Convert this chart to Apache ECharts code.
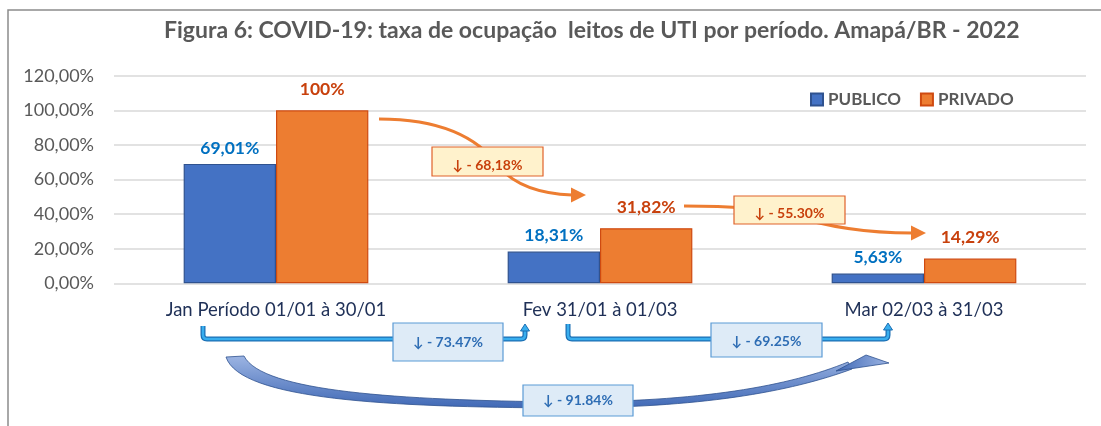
<!DOCTYPE html>
<html>
<head>
<meta charset="utf-8">
<script src="https://cdn.jsdelivr.net/npm/echarts@6/dist/echarts.min.js"></script>
<style>
  html, body { margin: 0; padding: 0; background: #fff; }
  #chart { width: 1101px; height: 426px; }
</style>
</head>
<body>
<div id="chart"></div>
<script>
// dados do gráfico
const categories = ['Jan Período 01/01 à 30/01', 'Fev 31/01 à 01/03', 'Mar 02/03 à 31/03']
const publico = [69.01, 18.31, 5.63]
const privado = [100, 31.82, 14.29]
const publicoLabels = ['69,01%', '18,31%', '5,63%']
const privadoLabels = ['100%', '31,82%', '14,29%']
const privadoChanges = ['↓ - 68,18%', '↓ - 55.30%']
const publicoChanges = ['↓ - 73.47%', '↓ - 69.25%']
const totalChange = '↓ - 91.84%'

const FONT = 'Lato, "Open Sans", sans-serif'
const ORANGE_TXT = '#C8400C'
const BLUE_TXT = '#2E6DB4'

// registra um caminho svg como forma do componente graphic
let shapeCount = 0
function pathType (d) {
  const name = 'anotacao' + (shapeCount++)
  echarts.graphic.registerShape(name, echarts.graphic.extendPath(d, {}))
  return name
}

function box (x, y, w, h, text, fill, stroke, color, dy) {
  return {
    type: 'group',
    z: 20,
    children: [
      { type: 'rect', shape: { x: x, y: y, width: w, height: h },
        style: { fill: fill, stroke: stroke, lineWidth: 1.2 }, z: 20 },
      { type: 'text', x: x + w / 2, y: y + h / 2 + (dy || 0), z: 21,
        style: { text: text, fill: color, font: 'bold 14px ' + FONT,
          textAlign: 'center', textVerticalAlign: 'middle' } }
    ]
  }
}

function bracket (d, tipX, tipY) {
  const t = pathType(d)
  return [
    { type: t, z: 10, shape: {},
      style: { fill: null, stroke: '#1B6FB4', lineWidth: 5, lineJoin: 'round' } },
    { type: t, z: 11, shape: {},
      style: { fill: null, stroke: '#39AEEE', lineWidth: 2.5, lineJoin: 'round' } },
    { type: 'polygon', z: 12,
      shape: { points: [[tipX - 4.5, tipY + 7], [tipX + 4.5, tipY + 7], [tipX, tipY]] },
      style: { fill: '#39AEEE', stroke: '#1B6FB4', lineWidth: 1 } }
  ]
}

function orangeArrow (d, tipX, tipY) {
  return [
    { type: pathType(d), z: 10, shape: {},
      style: { fill: null, stroke: '#ED7D31', lineWidth: 3 } },
    { type: 'polygon', z: 10,
      shape: { points: [[tipX - 15, tipY - 7.5], [tipX, tipY], [tipX - 15, tipY + 7.5]] },
      style: { fill: '#ED7D31' } }
  ]
}

const chart = echarts.init(document.getElementById('chart'))

const option = {
  animation: false,
  backgroundColor: '#fff',
  title: {
    text: 'Figura 6: COVID-19: taxa de ocupação  leitos de UTI por período. Amapá/BR - 2022',
    left: 164,
    top: 19,
    padding: 0,
    textStyle: { fontFamily: FONT, fontWeight: 'bold', fontSize: 23, color: '#595959' }
  },
  legend: {
    left: 810,
    top: 91,
    padding: 0,
    itemWidth: 12,
    itemHeight: 12,
    itemGap: 19,
    icon: 'rect',
    textStyle: { fontFamily: FONT, fontWeight: 'bold', fontSize: 17, color: '#595959' },
    data: ['PUBLICO', 'PRIVADO']
  },
  grid: { left: 114, right: 15, top: 75.7, bottom: 142.7, containLabel: false },
  xAxis: {
    type: 'category',
    data: categories,
    axisLine: { show: false },
    axisTick: { show: false },
    axisLabel: { margin: 17, fontFamily: FONT, fontSize: 18.5, color: '#1F3057', interval: 0 }
  },
  yAxis: {
    type: 'value',
    min: 0,
    max: 120,
    interval: 20,
    axisLine: { show: false },
    axisTick: { show: false },
    splitLine: { lineStyle: { color: '#D9D9D9', width: 1.5 } },
    axisLabel: {
      margin: 20, fontFamily: FONT, fontSize: 18, color: '#595959',
      formatter: v => v.toFixed(2).replace('.', ',') + '%'
    }
  },
  series: [
    {
      name: 'PUBLICO',
      type: 'bar',
      data: publico,
      barGap: '0%',
      barCategoryGap: '43%',
      itemStyle: { color: '#4472C4', borderColor: '#2F528F', borderWidth: 1.2 },
      label: {
        show: true, position: 'top', distance: 7,
        fontFamily: FONT, fontWeight: 'bold', fontSize: 17.5, color: '#0070C0',
        formatter: p => publicoLabels[p.dataIndex]
      }
    },
    {
      name: 'PRIVADO',
      type: 'bar',
      data: privado,
      barGap: '0%',
      barCategoryGap: '43%',
      itemStyle: { color: '#ED7D31', borderColor: '#CF4A10', borderWidth: 1.2 },
      label: {
        show: true, position: 'top', distance: 12,
        fontFamily: FONT, fontWeight: 'bold', fontSize: 17.5, color: ORANGE_TXT,
        formatter: p => privadoLabels[p.dataIndex]
      }
    }
  ],
  graphic: [
    // moldura
    { type: 'rect', z: 1, shape: { x: 8, y: 10, width: 1120, height: 440 },
      style: { fill: null, stroke: '#8C8C8C', lineWidth: 1.5 } },

    // setas laranja (privado)
    ...orangeArrow('M 379 119 C 440 119, 478 136, 500 168 C 518 188, 545 194, 572 195', 586, 195),
    ...orangeArrow('M 684 206 C 720 206, 760 207, 790 215 C 830 228, 870 233, 912 233', 926, 233),
    box(432, 147, 111, 29, privadoChanges[0], '#FFF2CC', '#E0622A', ORANGE_TXT, 4),
    box(734, 196, 111, 28, privadoChanges[1], '#FFF2CC', '#E0622A', ORANGE_TXT, 3),

    // colchetes azuis (publico)
    ...bracket('M 203 326 L 203 335 Q 203 339 207 339 L 521 339 Q 525 339 525 335 L 525 330', 525, 324),
    ...bracket('M 568 324 L 568 335 Q 568 339 572 339 L 884 339 Q 888 339 888 335 L 888 330', 888, 323),
    box(393, 323, 110, 38, publicoChanges[0], '#DEEBF7', '#5B9BD5', BLUE_TXT, 0),
    box(711, 323, 111, 34, publicoChanges[1], '#DEEBF7', '#5B9BD5', BLUE_TXT, 1),

    // seta curva grande
    { type: pathType('M 244 356 C 262 392, 400 400, 560 402 C 700 402, 790 386, 848 362 L 852 369 C 790 392, 700 408, 560 408 C 390 407, 240 400, 226 357 Z'),
      z: 10, shape: {},
      style: {
        fill: new echarts.graphic.LinearGradient(0, 0, 0, 1, [
          { offset: 0, color: '#9DB5E3' }, { offset: 1, color: '#3F68B5' }
        ]),
        stroke: '#2F528F', lineWidth: 0.8
      } },
    { type: 'polygon', z: 10,
      shape: { points: [[836, 371], [866, 355], [889, 363]] },
      style: {
        fill: new echarts.graphic.LinearGradient(0, 0, 1, 0, [
          { offset: 0, color: '#3F68B5' }, { offset: 1, color: '#9DB5E3' }
        ]),
        stroke: '#2F528F', lineWidth: 0.8
      } },
    box(523, 385, 110, 31, totalChange, '#DEEBF7', '#5B9BD5', BLUE_TXT, 0)
  ]
}

chart.setOption(option)
</script>
</body>
</html>
